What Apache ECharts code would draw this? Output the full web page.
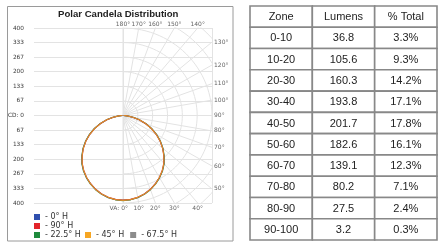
<!DOCTYPE html>
<html>
<head>
<meta charset="utf-8">
<script src="https://cdn.jsdelivr.net/npm/echarts@6/dist/echarts.min.js"></script>
<style>
html,body{margin:0;padding:0;background:#fff}
#main{width:438px;height:243px}
</style>
</head>
<body>
<div id="main"></div>
<script>
// vertical angles (deg, 0 = straight down) and candela per horizontal plane
var vAngles = [0,5,10,15,20,25,30,35,40,45,50,55,60,65,70,75,80,85,90];
var cd0H   = [388,386,381,372,360,345,328,309,287,261,234,205,174,142,109,76,45,18,3];
var cd90H  = [387,385,380,371,359,344,327,307,285,259,232,203,172,140,107,75,44,17,3];
var cd225H = [389,387,382,373,361,346,329,310,288,262,235,206,175,143,110,77,46,19,3];
var cd45H  = [388,386,380,372,360,345,327,308,286,260,233,204,173,141,108,76,45,18,3];
var cd675H = [387,386,381,371,359,344,328,308,286,260,233,204,173,141,108,75,44,18,3];

// polar grid
var gridAngles = [0,10,20,30,40,50,60,70,80,90,100,110,120,130,140,150,160,170,180];
var gridRings = [66.7,133.3,200,266.7,333.3,400,466.7,533.3];
var topTicks = [180,170,160,150,140];
var rightTicks = [130,120,110,100,90,80,70,60,50];
var bottomTicks = [0,10,20,30,40];

// zonal lumens table
var zones = ['0-10','10-20','20-30','30-40','40-50','50-60','60-70','70-80','80-90','90-100'];
var lumens = ['36.8','105.6','160.3','193.8','201.7','182.6','139.1','80.2','27.5','3.2'];
var pctTotal = ['3.3%','9.3%','14.2%','17.1%','17.8%','16.1%','12.3%','7.1%','2.4%','0.3%'];
var columns = ['Zone','Lumens','% Total'];

var chart = echarts.init(document.getElementById('main'));
var rad = Math.PI / 180;
var gridColor = '#e3e3e3';
var lblFont = 'DejaVu Sans';

function toXY(a, r) {
    return [r * Math.sin(a * rad), -r * Math.cos(a * rad)];
}

function curve(vals) {
    var pts = [];
    for (var i = vAngles.length - 1; i >= 0; i--) {
        var p = toXY(vAngles[i], vals[i]);
        pts.push([-p[0], p[1]]);
    }
    for (var j = 1; j < vAngles.length; j++) pts.push(toXY(vAngles[j], vals[j]));
    return pts;
}

var series = [];
// radial lines
gridAngles.forEach(function (a) {
    series.push({
        type: 'line', xAxisIndex: 0, yAxisIndex: 0, silent: true, symbol: 'none', clip: true,
        lineStyle: { color: gridColor, width: 1 },
        data: [[0, 0], toXY(a, 800)]
    });
});
// rings, right half only
gridRings.forEach(function (r) {
    var pts = [];
    for (var a = 0; a <= 180; a += 3) pts.push(toXY(a, r));
    series.push({
        type: 'line', xAxisIndex: 0, yAxisIndex: 0, silent: true, symbol: 'none', clip: true,
        lineStyle: { color: gridColor, width: 1 },
        data: pts
    });
});

// angle labels on the frame
var labelData = [];
topTicks.forEach(function (a) {
    labelData.push({ value: [400 * Math.tan((180 - a) * rad), 400],
        label: { position: 'top', distance: 1, formatter: a + '°' } });
});
rightTicks.forEach(function (a) {
    labelData.push({ value: [400, -400 * Math.cos(a * rad) / Math.sin(a * rad)],
        label: { position: 'right', distance: 2, formatter: a + '°' } });
});
bottomTicks.forEach(function (a) {
    var item = { value: [400 * Math.tan(a * rad), -400],
        label: { position: 'bottom', distance: 2, formatter: a + '°' } };
    if (a === 0) {
        item.label.formatter = 'VA: 0°';
        item.label.align = 'right';
        item.label.offset = [5, 0];
    }
    labelData.push(item);
});
series.push({
    type: 'scatter', xAxisIndex: 0, yAxisIndex: 0, silent: true, clip: false,
    symbolSize: 0,
    label: { show: true, fontSize: 6, fontFamily: lblFont, color: '#3a3a3a' },
    data: labelData
});

// candela curves (gray drawn first so the warm colours sit on top)
var planes = [
    { name: '67.5° H', color: '#8c8c8c', vals: cd675H },
    { name: '0° H', color: '#2f4fae', vals: cd0H },
    { name: '22.5° H', color: '#1f8a3c', vals: cd225H },
    { name: '90° H', color: '#e3242b', vals: cd90H },
    { name: '45° H', color: '#f6a623', vals: cd45H }
];
planes.forEach(function (p) {
    series.push({
        name: p.name, type: 'line', xAxisIndex: 0, yAxisIndex: 0, symbol: 'none',
        color: p.color, lineStyle: { width: 1.1, color: p.color, opacity: 0.75 },
        data: curve(p.vals)
    });
});

// table cells
var cells = [];
columns.forEach(function (c, ci) { cells.push({ value: [ci, 0], text: c }); });
zones.forEach(function (z, ri) {
    cells.push({ value: [0, ri + 1], text: z });
    cells.push({ value: [1, ri + 1], text: lumens[ri] });
    cells.push({ value: [2, ri + 1], text: pctTotal[ri] });
});
series.push({
    type: 'custom', xAxisIndex: 1, yAxisIndex: 1, silent: true,
    data: cells.map(function (c) { return c.value; }),
    renderItem: function (params, api) {
        var p = api.coord([api.value(0), api.value(1)]);
        var s = api.size([1, 1]);
        return {
            type: 'group',
            children: [{
                type: 'rect',
                shape: { x: p[0] - s[0] / 2, y: p[1] - s[1] / 2, width: s[0], height: s[1] },
                style: { fill: '#fff', stroke: '#888', lineWidth: 1.6 }
            }, {
                type: 'text',
                style: {
                    x: p[0], y: p[1] + 0.5, text: cells[params.dataIndex].text,
                    align: 'center', verticalAlign: 'middle',
                    font: '11px "Liberation Sans", Arial, sans-serif', fill: '#222'
                }
            }]
        };
    }
});

var legendText = { fontSize: 8, fontFamily: lblFont, color: '#333', lineHeight: 8 };

var option = {
    animation: false,
    title: {
        text: 'Polar Candela Distribution',
        left: 58, top: 9, padding: 0,
        textStyle: { fontSize: 9.6, fontWeight: 'bold', fontFamily: 'Liberation Sans', color: '#222' }
    },
    legend: [{
        data: ['0° H', '90° H', '22.5° H'], orient: 'vertical',
        left: 34, top: 213, padding: 0, itemGap: 1,
        itemWidth: 6, itemHeight: 6, icon: 'rect', formatter: '- {name}',
        textStyle: legendText, selectedMode: false
    }, {
        data: ['45° H', '67.5° H'], orient: 'horizontal',
        left: 85, top: 231, padding: 0, itemGap: 6,
        itemWidth: 6, itemHeight: 6, icon: 'rect', formatter: '- {name}',
        textStyle: legendText, selectedMode: false
    }],
    grid: [
        { left: 34, top: 28, width: 178, height: 175 },
        { left: 250, top: 6, width: 187, height: 234 }
    ],
    xAxis: [{
        type: 'value', min: -400, max: 400, interval: 400,
        axisLine: { show: false }, axisTick: { show: false }, axisLabel: { show: false },
        splitLine: { show: true, showMinLine: false, lineStyle: { color: gridColor } }
    }, {
        type: 'category', gridIndex: 1, data: columns, show: false
    }],
    yAxis: [{
        type: 'value', min: -400, max: 400, interval: 400 / 6,
        axisLine: { show: false }, axisTick: { show: false },
        axisLabel: {
            fontSize: 5.8, fontFamily: lblFont, color: '#3a3a3a', margin: 10,
            formatter: function (v) {
                return Math.abs(v) < 1 ? 'CD: 0' : String(Math.round(Math.abs(v)));
            }
        },
        splitLine: { show: true, lineStyle: { color: gridColor } }
    }, {
        type: 'category', gridIndex: 1, inverse: true, show: false,
        data: ['head'].concat(zones)
    }],
    graphic: [{
        type: 'rect', silent: true, z: -1,
        shape: { x: 7.5, y: 6.5, width: 225.5, height: 234.5 },
        style: { fill: 'none', stroke: '#9a9a9a', lineWidth: 1 }
    }],
    series: series
};

chart.setOption(option);
</script>
</body>
</html>
